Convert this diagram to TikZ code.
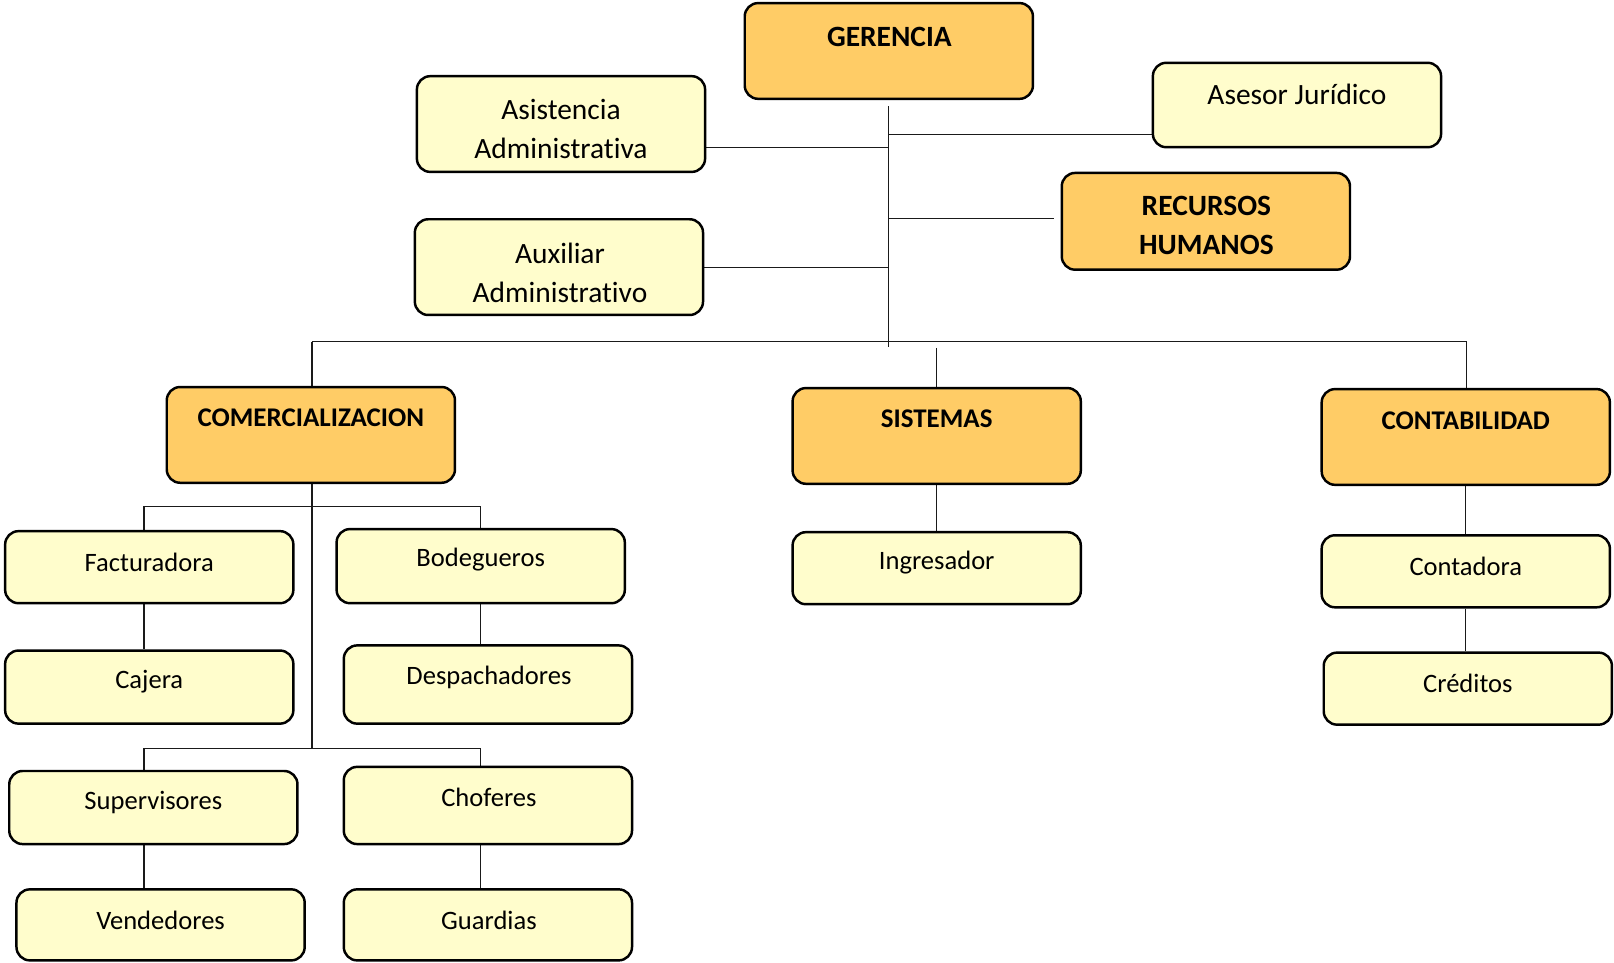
\documentclass[tikz,border=0pt]{standalone}
\usepackage{fontspec}
\setmainfont{Carlito}[Ligatures=NoCommon]
\usetikzlibrary{backgrounds}
\definecolor{orgfill}{HTML}{FFCC66}
\definecolor{lightfill}{HTML}{FFFDCC}
\definecolor{conncol}{HTML}{1A1A1A}
\tikzset{
  boxbase/.style={draw=black, line width=2.4pt, rounded corners=13pt, inner sep=0pt, minimum width=280pt},
  orgbox/.style={boxbase, fill=orgfill},
  litbox/.style={boxbase, fill=lightfill},
  lbl/.style={font=\fontsize{25.8}{38}\selectfont, align=center, inner sep=0pt},
  blbl/.style={lbl, font=\fontsize{26.2}{38}\selectfont\bfseries},
  biglbl/.style={lbl, font=\fontsize{28.6}{38}\selectfont},
  bigblbl/.style={lbl, font=\fontsize{28.6}{38}\selectfont\bfseries},
  conn/.style={draw=conncol, line width=1.2pt}
}
\begin{document}
\begin{tikzpicture}[x=1pt,y=-1pt]
\useasboundingbox (0,0) rectangle (1568,935);
% boxes
\node[orgbox, minimum height=93pt] (ger) at (863.5,49.5) {};
\node[bigblbl] (gerT) at (864,36) {GERENCIA};
\node[litbox, minimum height=93pt] (asi) at (545,120.5) {};
\node[biglbl] (asiT) at (545,125) {Asistencia\\Administrativa};
\node[litbox, minimum height=82pt] (ase) at (1260,102) {};
\node[biglbl] (aseT) at (1260,92) {Asesor Jurídico};
\node[orgbox, minimum height=94pt] (rrh) at (1171.5,215) {};
\node[bigblbl] (rrhT) at (1172,219) {RECURSOS\\HUMANOS};
\node[litbox, minimum height=93pt] (aux) at (543,259.5) {};
\node[biglbl] (auxT) at (544,265) {Auxiliar\\Administrativo};
\node[orgbox, minimum height=93pt] (com) at (302,422.5) {};
\node[blbl] (comT) at (302,406) {COMERCIALIZACION};
\node[orgbox, minimum height=93pt] (sis) at (910,423.5) {};
\node[blbl] (sisT) at (910,407) {SISTEMAS};
\node[orgbox, minimum height=93pt] (con) at (1424,424.5) {};
\node[blbl] (conT) at (1424,409) {CONTABILIDAD};
\node[litbox, minimum height=70pt] (fac) at (145,551) {};
\node[lbl] (facT) at (145,546) {Facturadora};
\node[litbox, minimum height=72pt] (bod) at (467,550) {};
\node[lbl] (bodT) at (467,544) {Bodegueros};
\node[litbox, minimum height=71pt] (caj) at (145,667.5) {};
\node[lbl] (cajT) at (145,662) {Cajera};
\node[litbox, minimum height=76pt] (des) at (474,665) {};
\node[lbl] (desT) at (475,658) {Despachadores};
\node[litbox, minimum height=71pt] (sup) at (149,784.5) {};
\node[lbl] (supT) at (149,780) {Supervisores};
\node[litbox, minimum height=75pt] (cho) at (474,782.5) {};
\node[lbl] (choT) at (475,775) {Choferes};
\node[litbox, minimum height=69pt] (ven) at (156,898.5) {};
\node[lbl] (venT) at (156,894) {Vendedores};
\node[litbox, minimum height=69pt] (gua) at (474,898.5) {};
\node[lbl] (guaT) at (475,894) {Guardias};
\node[litbox, minimum height=70pt] (ing) at (910,552) {};
\node[lbl] (ingT) at (910,547) {Ingresador};
\node[litbox, minimum height=70pt] (cta) at (1424,555) {};
\node[lbl] (ctaT) at (1424,550) {Contadora};
\node[litbox, minimum height=70pt] (cre) at (1426,669) {};
\node[lbl] (creT) at (1426,664) {Créditos};
% junction coordinates
\coordinate (tTop) at (863,103);
\coordinate (tBot) at (863,337);
\coordinate (jA) at (863,131);
\coordinate (jB) at (863,143);
\coordinate (jC) at (863,212);
\coordinate (jD) at (863,260);
\coordinate (busL) at (303,332);
\coordinate (busR) at (1425,332);
\coordinate (sisTop) at (910,338);
\coordinate (cjL) at (303,727);
\coordinate (uL) at (140,492);
\coordinate (uR) at (467,492);
\coordinate (lL) at (140,727);
\coordinate (lR) at (467,727);
\begin{scope}[on background layer]
\draw[conn] (tTop) -- (tBot);
\draw[conn] (jA) -- (jA -| ase.west);
\draw[conn] (jB) -- (jB -| asi.east);
\draw[conn] (jC) -- ([xshift=-6pt]jC -| rrh.west);
\draw[conn] (jD) -- ([xshift=-4pt]jD -| aux.east);
\draw[conn] (busL) -- (busR);
\draw[conn] (busL) -- (busL |- com.north);
\draw[conn] (sisTop) -- (sis.north);
\draw[conn] (busR) -- (busR |- con.north);
\draw[conn] (busL |- com.south) -- (cjL);
\draw[conn] (uL |- fac.north) -- (uL) -- (uR) -- (uR |- bod.north);
\draw[conn] (uL |- fac.south) -- (uL |- caj.north);
\draw[conn] (uR |- bod.south) -- (uR |- des.north);
\draw[conn] (lL |- sup.north) -- (lL) -- (lR) -- (lR |- cho.north);
\draw[conn] (lL |- sup.south) -- (lL |- ven.north);
\draw[conn] (lR |- cho.south) -- (lR |- gua.north);
\draw[conn] (sis.south) -- (ing.north);
\draw[conn] (con.south) -- (cta.north);
\draw[conn] (cta.south) -- (cta.south |- cre.north);
\end{scope}
\end{tikzpicture}
\end{document}
